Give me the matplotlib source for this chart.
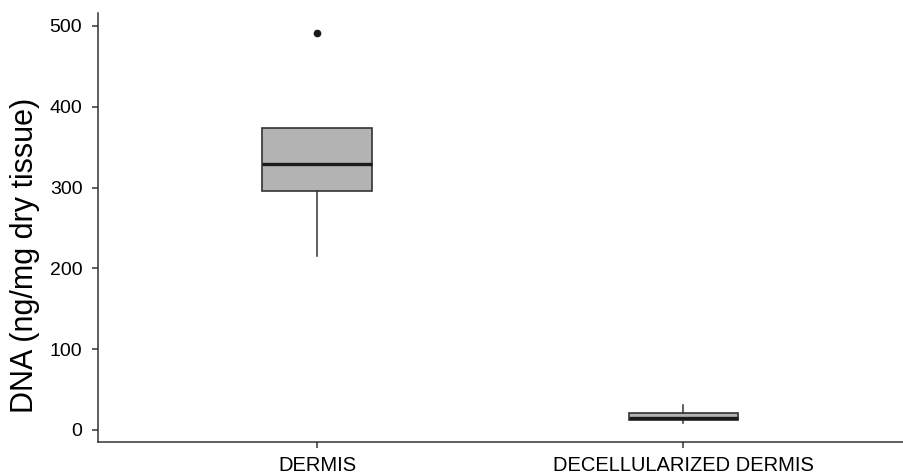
import numpy as np
import matplotlib.pyplot as plt

plt.rcParams['font.family'] = ['Liberation Sans', 'DejaVu Sans']

groups = ['DERMIS', 'DECELLULARIZED DERMIS']
q1 = [296, 12]
med = [329, 15]
q3 = [373.5, 20.5]
whislo = [215, 8]
whishi = [373.5, 31]
outliers = [[491], []]

y_label = 'DNA (ng/mg dry tissue)'
y_ticks = [0, 100, 200, 300, 400, 500]

stats = []
for i in range(len(groups)):
    stats.append({'label': groups[i], 'q1': q1[i], 'med': med[i], 'q3': q3[i],
                  'whislo': whislo[i], 'whishi': whishi[i], 'fliers': outliers[i]})

fig = plt.figure(figsize=(9.04, 4.75), dpi=100)
ax = fig.add_axes([0.108, 0.0695, 0.891, 0.903])

line_col = '#333333'
ax.bxp(stats, positions=[1, 2], widths=0.3, patch_artist=True, showcaps=False,
       boxprops=dict(facecolor='#B3B3B3', edgecolor=line_col, linewidth=1.2),
       medianprops=dict(color='#1a1a1a', linewidth=2.4),
       whiskerprops=dict(color=line_col, linewidth=1.1),
       flierprops=dict(marker='o', markerfacecolor='#1a1a1a', markeredgecolor='#1a1a1a',
                       markersize=4.5))

ax.set_xlim(0.4, 2.6)
ax.set_ylim(-15, 516)
ax.set_yticks(y_ticks)
ax.set_xticks([1, 2])
ax.set_xticklabels(groups)
ax.set_ylabel(y_label, fontsize=22, color='black')
ax.yaxis.set_label_coords(-0.072, 0.436)

for s in ['top', 'right']:
    ax.spines[s].set_visible(False)
for s in ['left', 'bottom']:
    ax.spines[s].set_color(line_col)
    ax.spines[s].set_linewidth(1.1)
ax.tick_params(axis='both', length=4, width=1.1, color=line_col,
               labelcolor='black')
ax.tick_params(axis='y', labelsize=14, pad=7)
ax.tick_params(axis='x', labelsize=14.5, pad=6)

fig.savefig('out.png', dpi=100)
